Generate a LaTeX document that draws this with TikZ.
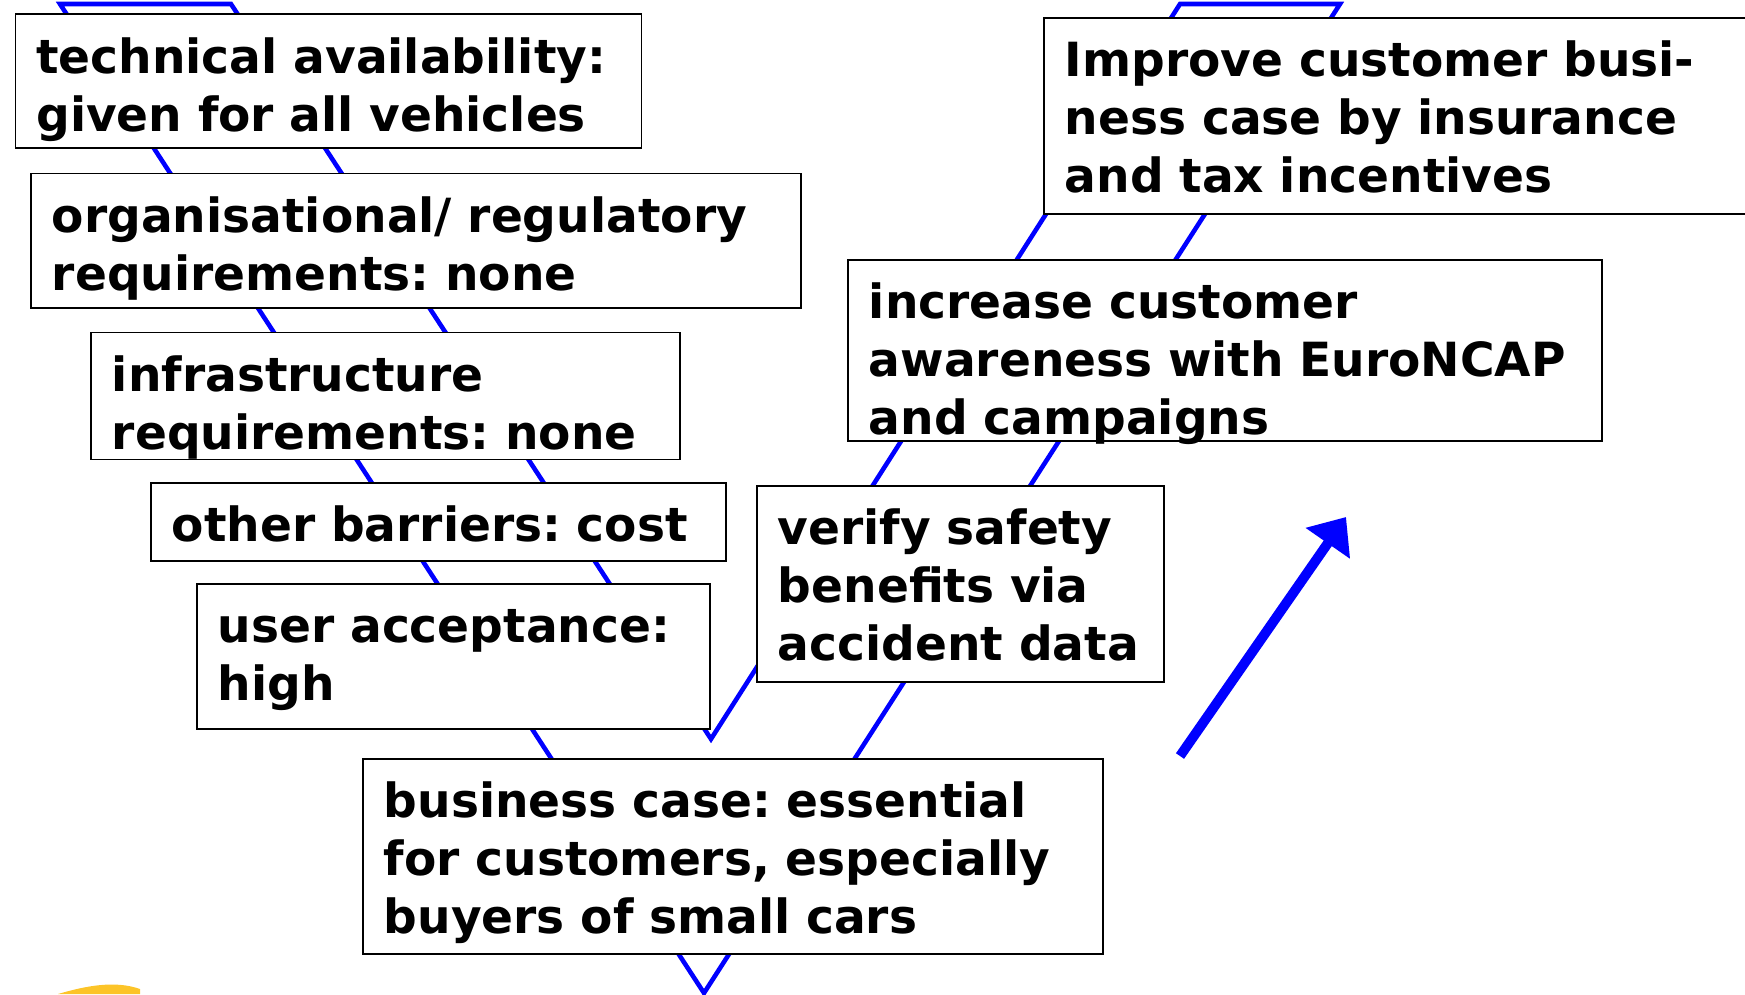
\documentclass[tikz,border=0pt]{standalone}
\usepackage{fontspec}
\setmainfont{DejaVu Sans}
\usetikzlibrary{arrows.meta}

\definecolor{logoyellow}{RGB}{252,196,40}

\begin{document}
\begin{tikzpicture}[x=0.1mm,y=-0.1mm,
  box/.style={draw=black, line width=0.5pt, fill=white, anchor=north west,
    inner xsep=2.1mm, inner ysep=0pt, align=left, text height=5.9mm,
    font=\fontsize{13.4}{16.5}\selectfont\bfseries\frenchspacing},
  band/.style={draw=blue, line width=1.3pt},
  >={Triangle[length=3.2mm,width=5.2mm]}]
\clip (0,0) rectangle (1745,994);

% V shaped band behind the boxes
\coordinate (P1) at (60,4);
\coordinate (P2) at (704,993);
\coordinate (P3) at (1340,4);
\coordinate (P4) at (1180,4);
\coordinate (P5) at (711,739);
\coordinate (P6) at (231,4);
\draw[band] (P1) -- (P2) -- (P3) -- (P4) -- (P5) -- (P6) -- cycle;

% left arm
\node[box, text width=58.4mm, text depth=7.46mm] (T) at (14.5,13.4) {technical availability:\\given for all vehicles};
\node[box, text width=72.8mm, text depth=7.57mm] (O) at (30,172.5) {organisational/ regulatory\\requirements: none};
\node[box, text width=54.7mm, text depth=6.8mm] (I) at (90,331.6) {infrastructure\\requirements: none};
\node[box, text width=53.3mm, text depth=1.9mm] (C) at (150,482) {other barriers: cost};
\node[box, text width=47.1mm, text depth=8.6mm] (U) at (196,583) {user acceptance:\\high};

% bottom
\node[box, text width=69.8mm, text depth=13.6mm] (B) at (362,758) {business case: essential\\for customers, especially\\buyers of small cars};

% right arm
\node[box, text width=36.5mm, text depth=13.7mm] (V) at (756,485) {verify safety\\benefits via\\accident data};
\node[box, text width=71.2mm, text depth=12.2mm] (A) at (847,259) {increase customer\\awareness with EuroNCAP\\and campaigns};
\node[box, text width=69.0mm, text depth=13.7mm] (N) at (1043,17) {Improve customer busi-\\ness case by insurance\\and tax incentives};

% big arrow
\coordinate (S) at (1180,756);
\coordinate (Z) at (1346,517);
\draw[->, blue, line width=2.8pt] (S) -- (Z);

% logo corner
\fill[logoyellow] (58,994) .. controls (85,986) and (115,980) .. (140,989) -- (140,994) -- cycle;
\end{tikzpicture}
\end{document}
